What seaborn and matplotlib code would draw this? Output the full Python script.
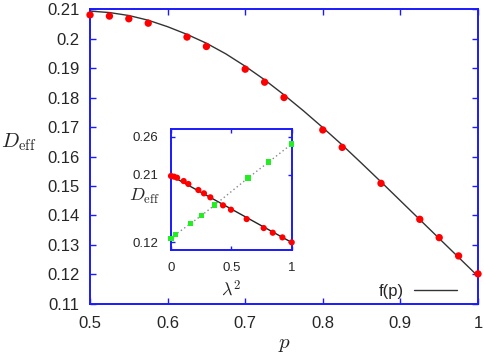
import numpy as np
import pandas as pd
import seaborn as sns
import matplotlib.pyplot as plt
from matplotlib.ticker import FormatStrFormatter, FuncFormatter

# main panel: simulation points and fitted curve f(p)
p_pts = [0.5, 0.525, 0.55, 0.575, 0.625, 0.65, 0.70, 0.725, 0.75,
         0.80, 0.825, 0.875, 0.925, 0.95, 0.975, 1.0]
d_pts = [0.2080, 0.2076, 0.2067, 0.2052, 0.2005, 0.1973, 0.1896, 0.1852, 0.1800,
         0.1690, 0.1631, 0.1509, 0.1387, 0.1325, 0.1263, 0.1202]

p_fit = [0.5, 0.525, 0.55, 0.575, 0.6, 0.625, 0.65, 0.675, 0.7, 0.725, 0.75,
         0.775, 0.8, 0.825, 0.85, 0.875, 0.9, 0.925, 0.95, 0.975, 1.0]
d_fit = [0.2093, 0.2088, 0.2078, 0.2062, 0.2040, 0.2014, 0.1984, 0.1948, 0.1906,
         0.1860, 0.1809, 0.1755, 0.1698, 0.1639, 0.1577, 0.1514, 0.1450, 0.1386,
         0.1322, 0.1258, 0.1194]

# inset: D_eff vs lambda^2
lam_red = [0.0, 0.025, 0.05, 0.105, 0.144, 0.227, 0.273, 0.326, 0.431, 0.497,
           0.627, 0.768, 0.843, 0.923, 1.0]
d_red = [0.2081, 0.2072, 0.2058, 0.2014, 0.1975, 0.1895, 0.1851, 0.1798, 0.1692,
         0.1634, 0.1510, 0.1391, 0.1329, 0.1267, 0.1201]
lam_line = [0.0, 1.0]
d_line = [0.2085, 0.1200]

lam_green = [0.0, 0.036, 0.160, 0.254, 0.362, 0.638, 0.809, 1.0]
d_green = [0.1254, 0.1303, 0.1448, 0.1559, 0.1696, 0.2054, 0.2266, 0.2505]

sns.set_style("ticks")
plt.rcParams['font.family'] = ['Liberation Sans', 'DejaVu Sans']
plt.rcParams['mathtext.fontset'] = 'cm'

blue = "#1a1aff"
red = "#ff0000"
green = "#22ee22"

fig = plt.figure(figsize=(4.84, 3.55), dpi=100)
ax = fig.add_axes([0.186, 0.1437, 0.8016, 0.8309])

sns.lineplot(x=p_fit, y=d_fit, color="#333333", lw=1.0, ax=ax, label="f(p)")
sns.scatterplot(x=p_pts, y=d_pts, color=red, s=28, edgecolor="none", ax=ax,
                zorder=3, clip_on=False)

ax.set_xlim(0.5, 1.0)
ax.set_ylim(0.11, 0.21)
ax.set_xticks(np.arange(0.5, 1.01, 0.1))
ax.set_yticks(np.arange(0.11, 0.2101, 0.01))
ax.xaxis.set_major_formatter(FuncFormatter(lambda v, pos: "%g" % round(v, 2)))
ax.yaxis.set_major_formatter(FuncFormatter(lambda v, pos: "%g" % round(v, 2)))
ax.tick_params(direction="in", top=True, right=True, color=blue, length=4,
               labelsize=12, width=1)
ax.tick_params(axis="y", pad=7.5)
ax.tick_params(axis="x", pad=8.5)
for s in ax.spines.values():
    s.set_color(blue)
    s.set_linewidth(1.4)
ax.set_xlabel(r"$p$", fontsize=15)
ax.xaxis.set_label_coords(0.5, -0.105)
ax.set_ylabel(r"$D_{\rm eff}$", fontsize=15, rotation=0, va="center")
ax.yaxis.set_label_coords(-0.185, 0.55)
leg = ax.legend(loc="lower right", frameon=False, fontsize=12,
                handlelength=2.6, handletextpad=0.6, markerfirst=False,
                bbox_to_anchor=(0.985, -0.033))

# inset
axi = fig.add_axes([0.3533, 0.2958, 0.2494, 0.3400])
sns.lineplot(x=lam_line, y=d_line, color="#222222", lw=1.0, ax=axi)
sns.lineplot(x=lam_green, y=d_green, color="#888888", lw=1.0, ls=(0, (1, 2)), ax=axi)
sns.scatterplot(x=lam_red, y=d_red, color=red, s=20, edgecolor="none", ax=axi,
                zorder=3, clip_on=False)
sns.scatterplot(x=lam_green, y=d_green, color=green, marker="s", s=14,
                edgecolor="none", ax=axi, zorder=3, clip_on=False)
axi.set_xlim(0, 1)
axi.set_ylim(0.11, 0.27)
axi.set_xticks([0, 0.5, 1])
axi.set_yticks([0.12, 0.21, 0.26])
axi.xaxis.set_major_formatter(FuncFormatter(lambda v, pos: "%g" % v))
axi.yaxis.set_major_formatter(FormatStrFormatter("%.2f"))
axi.tick_params(direction="in", top=True, right=True, color=blue, length=3,
                labelsize=9.5, width=1)
axi.tick_params(axis="y", pad=9)
axi.tick_params(axis="x", pad=8.5)
for s in axi.spines.values():
    s.set_color(blue)
    s.set_linewidth(1.4)
axi.set_xlabel(r"$\lambda^2$", fontsize=13)
axi.xaxis.set_label_coords(0.5, -0.245)
axi.set_ylabel(r"$D_{\rm eff}$", fontsize=13, rotation=0, va="center")
axi.yaxis.set_label_coords(-0.22, 0.44)

fig.savefig("out.png", dpi=100)
